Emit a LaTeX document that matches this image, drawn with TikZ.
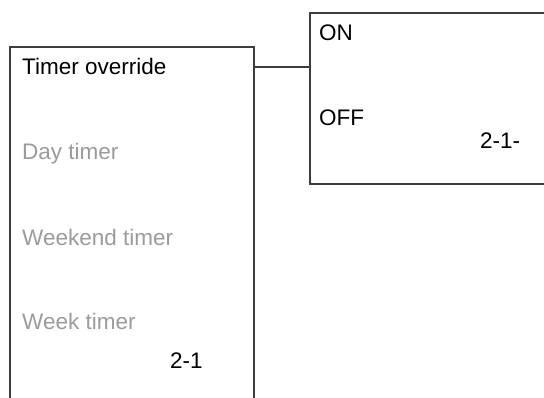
\documentclass[tikz,border=0pt]{standalone}
\usepackage{fontspec}
\setmainfont{Liberation Sans}
\usetikzlibrary{positioning}
\definecolor{menuline}{HTML}{3C3C3C}
\definecolor{menugrey}{HTML}{9B9B9B}
\tikzset{
  menubox/.style={
    draw=menuline,
    line width=1.4pt,
    inner sep=0pt
  },
  entry/.style={
    anchor=base west,
    inner sep=0pt,
    font=\fontsize{22.5}{26}\selectfont
  },
  offentry/.style={
    entry,
    text=menugrey
  },
  link/.style={
    draw=menuline,
    line width=1.4pt
  }
}
\begin{document}
\begin{tikzpicture}[x=1pt,y=1pt]
\useasboundingbox (0,-397) rectangle (544,0);
\clip (0,-397) rectangle (544,0);
\node[menubox, minimum width=244pt, minimum height=363pt] (timers) at (132,-228.5) {};
\node[menubox, minimum width=250pt, minimum height=171pt] (onoff) at (435,-98.5) {};
\node[entry] (override) at (22,-74) {Timer override};
\node[offentry] (day) at (22,-159) {Day timer};
\node[offentry] (weekend) at (22,-245) {Weekend timer};
\node[offentry] (week) at (22,-329) {Week timer};
\node[entry] (ref) at (170,-368) {2-1};
\node[entry] (on) at (319,-40) {ON};
\node[entry] (off) at (319,-125) {OFF};
\node[entry] (subref) at (480,-148) {2-1-};
\draw[link] (timers.east |- 0,-67) -- (onoff.west |- 0,-67);
\end{tikzpicture}
\end{document}
